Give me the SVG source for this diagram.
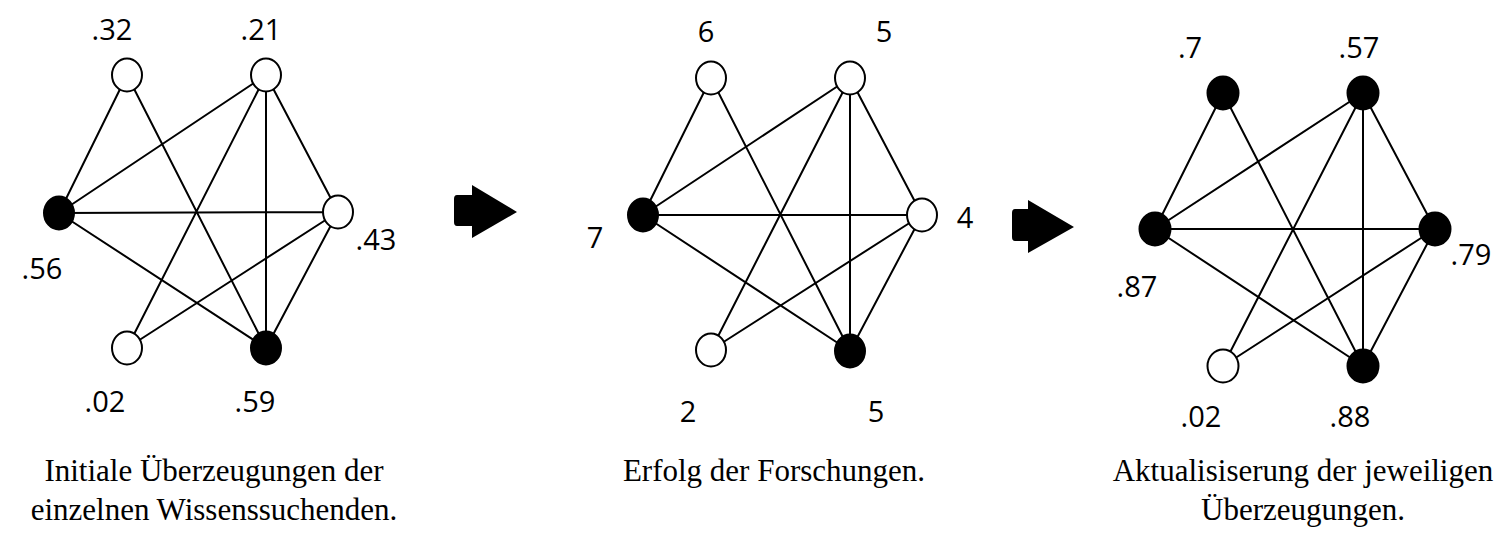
<svg xmlns="http://www.w3.org/2000/svg" width="1503" height="534" viewBox="0 0 1503 534">
<style>
.e{stroke:#000;stroke-width:2;fill:none}
.o{fill:#fff;stroke:#000;stroke-width:2}
.f{fill:#000;stroke:#000;stroke-width:2}
.n{font-family:"Open Sans","Liberation Sans",sans-serif;font-size:29px;fill:#000;text-anchor:middle}
.c{font-family:"Liberation Serif",serif;font-size:31px;fill:#000;text-anchor:middle}
.a{fill:#000}
</style>
<rect width="1503" height="534" fill="#fff"/>
<g id="connectors">
<!-- graph 1: A(127,75) B(266,75) C(59,213) D(338,212) E(127,348) F(266,348) -->
<path class="e" d="M127,75L59,213M127,75L266,348M266,75L59,213M266,75L127,348M266,75L266,348M266,75L338,212M59,213L338,212M59,213L266,348M338,212L127,348M338,212L266,348"/>
<!-- graph 2: A(711,78) B(850,78) C(643,215) D(922,215) E(711,350) F(850,351) -->
<path class="e" d="M711,78L643,215M711,78L850,351M850,78L643,215M850,78L711,350M850,78L850,351M850,78L922,215M643,215L922,215M643,215L850,351M922,215L711,350M922,215L850,351"/>
<!-- graph 3: A(1223,93) B(1363,93) C(1155,229) D(1435,229) E(1223,366) F(1363,366) -->
<path class="e" d="M1223,93L1155,229M1223,93L1363,366M1363,93L1155,229M1363,93L1223,366M1363,93L1363,366M1363,93L1435,229M1155,229L1435,229M1155,229L1363,366M1435,229L1223,366M1435,229L1363,366"/>
</g>
<g id="g1-a"><ellipse class="o" cx="127" cy="75" rx="15" ry="16.5"/><text class="n" x="112" y="40">.32</text></g>
<g id="g1-b"><ellipse class="o" cx="266" cy="75" rx="15" ry="16.5"/><text class="n" x="261" y="40">.21</text></g>
<g id="g1-c"><ellipse class="f" cx="59" cy="213" rx="15" ry="16.5"/><text class="n" x="42" y="279">.56</text></g>
<g id="g1-d"><ellipse class="o" cx="338" cy="212" rx="15" ry="16.5"/><text class="n" x="376" y="250">.43</text></g>
<g id="g1-e"><ellipse class="o" cx="127" cy="348" rx="15" ry="16.5"/><text class="n" x="105" y="412">.02</text></g>
<g id="g1-f"><ellipse class="f" cx="266" cy="348" rx="15" ry="16.5"/><text class="n" x="255" y="412">.59</text></g>

<g id="arrow1"><path class="a" d="M457,195H472V185L517,212L472,238V226H457Q454,226 454,222V199Q454,195 457,195Z"/></g>

<g id="g2-a"><ellipse class="o" cx="711" cy="78" rx="15" ry="16.5"/><text class="n" x="706" y="42">6</text></g>
<g id="g2-b"><ellipse class="o" cx="850" cy="78" rx="15" ry="16.5"/><text class="n" x="884" y="42">5</text></g>
<g id="g2-c"><ellipse class="f" cx="643" cy="215" rx="15" ry="16.5"/><text class="n" x="595" y="248">7</text></g>
<g id="g2-d"><ellipse class="o" cx="922" cy="215" rx="15" ry="16.5"/><text class="n" x="965" y="228">4</text></g>
<g id="g2-e"><ellipse class="o" cx="711" cy="350" rx="15" ry="16.5"/><text class="n" x="688" y="422">2</text></g>
<g id="g2-f"><ellipse class="f" cx="850" cy="351" rx="15" ry="16.5"/><text class="n" x="876" y="422">5</text></g>

<g id="arrow2"><path class="a" d="M1015,209H1028V200L1074,227L1028,253V241H1015Q1012,241 1012,237V213Q1012,209 1015,209Z"/></g>

<g id="g3-a"><ellipse class="f" cx="1223" cy="93" rx="15.5" ry="16.5"/><text class="n" x="1190" y="58">.7</text></g>
<g id="g3-b"><ellipse class="f" cx="1363" cy="93" rx="15.5" ry="16.5"/><text class="n" x="1359" y="58">.57</text></g>
<g id="g3-c"><ellipse class="f" cx="1155" cy="229" rx="15.5" ry="16.5"/><text class="n" x="1137" y="297">.87</text></g>
<g id="g3-d"><ellipse class="f" cx="1435" cy="229" rx="15.5" ry="16.5"/><text class="n" x="1471" y="265">.79</text></g>
<g id="g3-e"><ellipse class="o" cx="1223" cy="366" rx="15.5" ry="16.5"/><text class="n" x="1201" y="427">.02</text></g>
<g id="g3-f"><ellipse class="f" cx="1363" cy="366" rx="15.5" ry="16.5"/><text class="n" x="1350" y="427">.88</text></g>

<g id="caption1"><text class="c" x="214" y="481">Initiale Überzeugungen der</text><text class="c" x="214" y="520">einzelnen Wissenssuchenden.</text></g>
<g id="caption2"><text class="c" x="774" y="481">Erfolg der Forschungen.</text></g>
<g id="caption3"><text class="c" x="1303" y="481">Aktualisiserung der jeweiligen</text><text class="c" x="1303" y="520">Überzeugungen.</text></g>
</svg>
